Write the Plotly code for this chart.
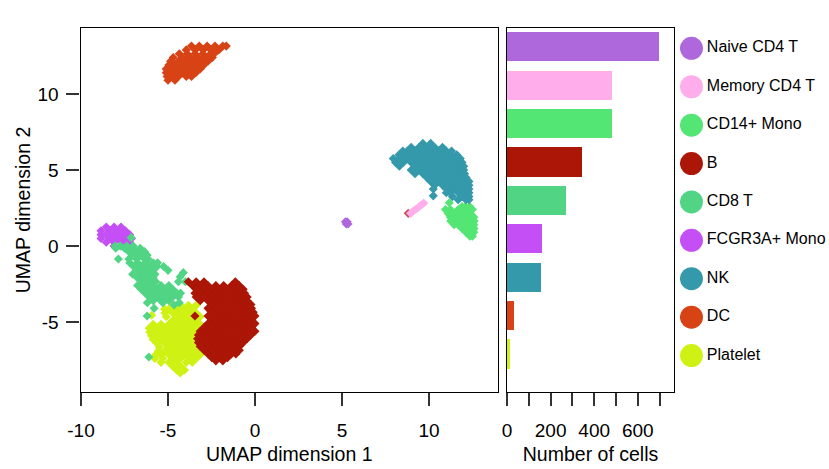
import plotly.graph_objects as go

# cell types, biggest first, same order for bars and legend
cell_types = ['Naive CD4 T', 'Memory CD4 T', 'CD14+ Mono', 'B', 'CD8 T',
              'FCGR3A+ Mono', 'NK', 'DC', 'Platelet']
cell_counts = [697, 483, 480, 344, 271, 162, 155, 32, 14]
cell_colors = ['#AF67DC', '#FFADEB', '#53E674', '#AB1607', '#51D585',
               '#C44FF5', '#3499AB', '#D84315', '#CFF214']

# UMAP points, y: [x, x, ...]
naive_rows = {1.6: [5.2, 5.3], 1.45: [5.25, 5.35]}

memory_rows = {2.15: [8.95], 2.3: [9.1], 2.42: [9.25], 2.55: [9.4], 2.7: [9.55], 2.82: [9.7]}

cd14_rows = {
    2.85: [11.17],
    2.6: [11.9, 12.1, 12.35],
    2.4: [10.95, 11.23, 11.68, 12.13, 12.5],
    2.15: [11.1, 11.45, 11.9, 12.35],
    1.9: [11.23, 11.68, 12.13, 12.58],
    1.65: [11.25, 11.45, 11.9, 12.35, 12.6],
    1.4: [11.45, 11.68, 12.13, 12.58],
    1.15: [11.9, 12.35, 12.6],
    0.9: [12.13, 12.58],
    0.65: [12.35, 12.5],
}

b_rows = {
    -2.35: [-3.83, -3.38, -2.93, -1.13],
    -2.6: [-3.6, -3.15, -2.7, -2.25, -1.8, -1.35, -0.9],
    -2.85: [-3.38, -2.93, -2.48, -2.03, -1.58, -1.13, -0.68],
    -3.1: [-3.45, -3.15, -2.7, -2.25, -1.8, -1.35, -0.9, -0.6],
    -3.35: [-3.38, -2.93, -2.48, -2.03, -1.58, -1.13, -0.68, -0.45],
    -3.6: [-3.15, -2.7, -2.25, -1.8, -1.35, -0.9, -0.45],
    -3.85: [-2.48, -2.03, -1.58, -1.13, -0.68, -0.23],
    -4.1: [-2.7, -2.25, -1.8, -1.35, -0.9, -0.45, -0.2],
    -4.35: [-2.48, -2.03, -1.58, -1.13, -0.68, -0.23, -0.1],
    -4.6: [-3.45, -2.7, -2.25, -1.8, -1.35, -0.9, -0.45, 0.0],
    -4.85: [-2.48, -2.03, -1.58, -1.13, -0.68, -0.23],
    -5.1: [-2.7, -2.25, -1.8, -1.35, -0.9, -0.45, 0.0],
    -5.35: [-2.93, -2.48, -2.03, -1.58, -1.13, -0.68, -0.23],
    -5.6: [-3.15, -2.7, -2.25, -1.8, -1.35, -0.9, -0.45, 0.0],
    -5.85: [-3.25, -2.93, -2.48, -2.03, -1.58, -1.13, -0.68, -0.23],
    -6.1: [-3.3, -3.15, -2.7, -2.25, -1.8, -1.35, -0.9, -0.45],
    -6.35: [-3.25, -2.93, -2.48, -2.03, -1.58, -1.13, -0.68],
    -6.6: [-3.15, -2.7, -2.25, -1.8, -1.35, -0.9],
    -6.85: [-2.93, -2.48, -2.03, -1.58, -1.13, -0.9],
    -7.1: [-2.7, -2.25, -1.8, -1.35, -1.1],
    -7.35: [-2.48, -2.03, -1.58],
    -7.55: [-2.25, -1.85],
}

cd8_rows = {
    0.55: [-7.12],
    0.0: [-8.04, -7.75, -7.37, -7.0],
    -0.15: [-8.0, -7.5, -7.05, -6.6],
    -0.37: [-7.25, -6.8, -6.35],
    -0.6: [-7.03, -6.58, -6.2],
    -0.85: [-7.85, -7.25, -6.8, -6.35, -6.15],
    -1.1: [-7.2, -6.75, -6.3, -5.85, -5.6],
    -1.35: [-6.98, -6.53, -6.08, -5.63, -5.25],
    -1.6: [-6.75, -6.3, -5.85, -5.0],
    -1.75: [-4.12],
    -1.85: [-7.03, -6.53, -6.08, -5.75],
    -2.02: [-4.3],
    -2.1: [-6.75, -6.3, -5.85],
    -2.35: [-6.53, -6.08, -5.7, -4.4, -4.0],
    -2.6: [-6.75, -6.3, -5.85, -5.4, -4.95],
    -2.85: [-6.53, -6.08, -5.63, -5.18, -4.73],
    -3.1: [-6.3, -5.85, -5.4, -4.95, -4.5, -4.28],
    -3.35: [-6.08, -5.63, -5.18, -4.73, -4.4],
    -3.6: [-5.85, -5.4, -4.95],
    -3.73: [-6.19, -5.3, -4.35],
    -3.88: [-4.65],
    -4.1: [-5.8],
    -4.6: [-6.2],
    -7.3: [-6.1],
}

fcgr_rows = {
    1.25: [-8.55, -8.1, -7.7],
    1.0: [-8.85, -8.35, -7.9, -7.45],
    0.75: [-8.85, -8.55, -8.1, -7.65, -7.2],
    0.5: [-8.85, -8.35, -7.9, -7.45, -7.1],
    0.25: [-8.55, -8.1, -7.65, -7.2],
    0.0: [-8.1, -7.7, -7.3],
}

nk_rows = {
    6.75: [9.65, 10.1],
    6.5: [8.98, 9.43, 9.88, 10.33, 10.78],
    6.25: [8.5, 8.75, 9.2, 9.65, 10.1, 10.55, 11.0, 11.3],
    6.0: [8.28, 8.53, 8.98, 9.43, 9.88, 10.33, 10.78, 11.23, 11.6],
    5.75: [7.95, 8.3, 8.75, 9.2, 9.65, 10.1, 10.55, 11.0, 11.45, 11.8],
    5.5: [8.08, 8.53, 8.98, 9.43, 9.88, 10.33, 10.78, 11.23, 11.68, 11.9],
    5.25: [8.3, 9.2, 9.65, 10.1, 10.55, 11.0, 11.45, 11.9, 12.0],
    5.0: [8.98, 9.43, 9.88, 10.33, 10.78, 11.23, 11.68, 12.0],
    4.75: [9.2, 9.65, 10.1, 10.55, 11.0, 11.45, 11.9, 12.05],
    4.5: [9.88, 10.33, 10.78, 11.23, 11.68, 12.13],
    4.25: [10.1, 10.55, 11.0, 11.45, 11.9, 12.3],
    4.0: [10.33, 10.78, 11.23, 11.68, 12.13, 12.3],
    3.75: [10.25, 11.0, 11.45, 11.9, 12.3],
    3.5: [11.0, 11.23, 11.68, 12.13, 12.3],
    3.3: [10.25],
    3.25: [11.35, 11.9, 12.3],
    3.05: [11.68, 12.13, 12.3],
}

dc_rows = {
    13.15: [-3.65, -3.2, -2.75, -2.3, -1.85, -1.65],
    12.9: [-3.95, -3.43, -2.98, -2.53, -2.08],
    12.65: [-4.35, -3.9, -3.45, -3.0, -2.55, -2.35],
    12.4: [-4.7, -4.18, -3.73, -3.28, -2.83, -2.45],
    12.15: [-4.85, -4.4, -3.95, -3.5, -3.05, -2.7],
    11.9: [-4.95, -4.63, -4.18, -3.73, -3.28, -2.95],
    11.65: [-5.1, -4.85, -4.4, -3.95, -3.5, -3.15],
    11.4: [-5.1, -4.63, -4.18, -3.73, -3.4],
    11.15: [-5.05, -4.85, -4.4, -3.95, -3.65],
    10.9: [-5.0, -4.6],
}

platelet_rows = {
    -3.9: [-4.73, -4.28, -3.83, -3.38],
    -4.15: [-5.2, -4.95, -4.5, -4.05, -3.6],
    -4.4: [-5.18, -4.73, -4.28, -3.83, -3.38],
    -4.55: [-5.94],
    -4.65: [-5.1, -4.5, -4.05, -3.6, -3.15],
    -4.9: [-4.73, -4.28, -3.83, -3.38],
    -5.15: [-5.85, -5.4, -4.95, -4.5, -4.05, -3.6, -3.15],
    -5.4: [-6.08, -5.63, -5.18, -4.73, -4.28, -3.83, -3.38, -2.93],
    -5.65: [-6.05, -5.85, -5.4, -4.95, -4.5, -4.05, -3.6, -3.15],
    -5.9: [-5.95, -5.63, -5.18, -4.73, -4.28, -3.83, -3.38, -2.93],
    -6.15: [-5.85, -5.4, -4.95, -4.5, -4.05, -3.6, -3.15],
    -6.4: [-5.63, -5.18, -4.73, -4.28, -3.83, -3.38, -2.93],
    -6.65: [-5.5, -4.95, -4.5, -4.05, -3.6, -3.15],
    -6.9: [-5.55, -5.18, -4.73, -4.28, -3.83, -3.38, -2.93],
    -7.15: [-5.7, -5.4, -4.95, -4.5, -4.05, -3.6, -3.15],
    -7.4: [-5.75, -5.3, -4.73, -4.28, -3.83, -3.38],
    -7.65: [-5.4, -4.95, -4.5, -3.95, -3.6],
    -7.9: [-4.73, -4.28],
    -8.15: [-4.5, -4.05],
    -8.35: [-4.3],
}

stray_b_x = [8.81]
stray_b_y = [2.15]

# plain number lists for plotly
def row_x(rows):
    return [x for y in rows for x in rows[y]]

def row_y(rows):
    return [y for y in rows for x in rows[y]]

color_of = dict(zip(cell_types, cell_colors))
W, H = 829, 469
font_name = 'Liberation Sans'
point_size = 7

fig = go.Figure()

# drawing order matters where the clusters touch
draw_order = [
    ('Naive CD4 T', naive_rows),
    ('FCGR3A+ Mono', fcgr_rows),
    ('Platelet', platelet_rows),
    ('CD8 T', cd8_rows),
    ('B', b_rows),
    ('Memory CD4 T', memory_rows),
    ('CD14+ Mono', cd14_rows),
    ('NK', nk_rows),
    ('DC', dc_rows),
]
fig.add_trace(go.Scatter(x=stray_b_x, y=stray_b_y, mode='markers', showlegend=False,
                         marker=dict(symbol='diamond', size=point_size, color='#C8505A')))
for name, rows in draw_order:
    fig.add_trace(go.Scatter(
        x=row_x(rows), y=row_y(rows), mode='markers', name=name, showlegend=False,
        marker=dict(symbol='diamond', size=point_size, color=color_of[name], line=dict(width=0)),
    ))

# bars
fig.add_trace(go.Bar(
    x=cell_counts, y=cell_types, orientation='h', width=0.76, showlegend=False,
    marker=dict(color=cell_colors, line=dict(width=0)),
    xaxis='x2', yaxis='y2',
))

# legend drawn as big dots with text, on its own y axis to nudge it down a bit
fig.add_trace(go.Scatter(
    x=[0] * len(cell_types), y=cell_types, mode='markers+text', showlegend=False,
    text=cell_types, textposition='middle right',
    textfont=dict(size=16, color='black', family=font_name),
    marker=dict(size=23, color=cell_colors),
    xaxis='x3', yaxis='y3',
))

frame = dict(showline=True, mirror=True, linecolor='black', linewidth=1.3,
             showgrid=False, zeroline=False, automargin=False)
y_domain = [(H - 392) / H, (H - 28) / H]
title_font = dict(size=19.5)

fig.update_layout(
    template='none',
    width=W, height=H,
    margin=dict(l=0, r=0, t=0, b=0),
    paper_bgcolor='white', plot_bgcolor='white',
    font=dict(family=font_name, size=19, color='black'),
    bargap=0,
    xaxis=dict(frame, domain=[80.5 / W, 498 / W], range=[-10.03, 13.97],
               tickvals=[-10, -5, 0, 5, 10], ticktext=['-10', '-5', '0', '5', '10'],
               ticks='outside', ticklen=13,
               tickwidth=1.5, tickcolor='#333333', ticklabelstandoff=8,
               title=dict(text='UMAP dimension 1', standoff=7, font=title_font)),
    yaxis=dict(frame, domain=y_domain, range=[-9.6, 14.34],
               tickvals=[-5, 0, 5, 10], ticktext=['-5', '0', '5', '10'],
               ticks='outside', ticklen=13,
               tickwidth=1.5, tickcolor='#333333', ticklabelstandoff=4,
               title=dict(text='UMAP dimension 2', standoff=1, font=title_font)),
    xaxis2=dict(frame, domain=[507 / W, 674 / W], range=[0, 766], anchor='y2',
                tickvals=[0, 100, 200, 300, 400, 500, 600, 700],
                ticktext=['0', '', '200', '', '400', '', '600', ''],
                ticks='outside', ticklen=13, tickwidth=1.5, tickcolor='#333333',
                ticklabelstandoff=8,
                title=dict(text='Number of cells', standoff=7, font=title_font)),
    yaxis2=dict(frame, domain=y_domain, anchor='x2', type='category',
                categoryorder='array', categoryarray=cell_types,
                range=[8.99, -0.49], showticklabels=False, ticks=''),
    xaxis3=dict(domain=[680 / W, 1], range=[-0.5, 6], anchor='y3', visible=False),
    yaxis3=dict(domain=y_domain, anchor='x3', type='category', visible=False,
                categoryorder='array', categoryarray=cell_types,
                range=[8.95, -0.53]),
)

# no page margin and no toolbar, so only the figure shows in the window
fig.write_html('out.html', config=dict(displayModeBar=False),
               post_script="document.body.style.margin='0';")
